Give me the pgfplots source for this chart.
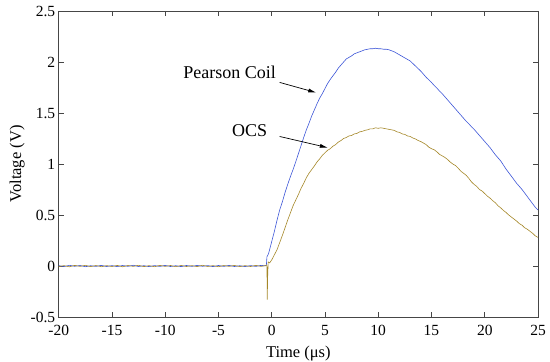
\documentclass[border=0pt]{standalone}
\usepackage{fontspec}
\setmainfont{Liberation Serif}
\usepackage{pgfplots}
\pgfplotsset{compat=1.18}
\usetikzlibrary{arrows.meta}
\definecolor{pblue}{RGB}{60,85,215}
\definecolor{ocs}{RGB}{165,135,40}
\definecolor{axgray}{RGB}{70,70,70}
\begin{document}
\begin{tikzpicture}
\begin{axis}[
 scale only axis, width=479.3bp, height=306bp,
 xmin=-20,xmax=25,ymin=-0.5,ymax=2.5,
 xtick={-20,-15,-10,-5,0,5,10,15,20,25},
 ytick={-0.5,0,0.5,1,1.5,2,2.5},
 tick align=inside, major tick length=5bp,
 axis line style={axgray, line width=0.8pt},
 tick style={axgray, line width=0.8pt},
 /pgf/number format/assume math mode=true,
 tick label style={font=\fontsize{15.5bp}{18bp}\selectfont},
 xticklabel style={yshift=-5bp},
 label style={font=\fontsize{16.5bp}{19bp}\selectfont},
 xlabel={Time (μs)}, ylabel={Voltage (V)},
 xlabel style={yshift=-3bp},
 ylabel style={yshift=-1bp},
 clip=true,
]
\addplot[pblue, line width=0.6pt] coordinates {
(-20,0.004)(-19.5,-0.006)(-19,0.007)(-18.5,-0.003)(-18,0.005)(-17.5,-0.007)(-17,0.003)(-16.5,-0.004)(-16,0.006)(-15.5,-0.005)
(-15,0.004)(-14.5,-0.006)(-14,0.005)(-13.5,-0.003)(-13,0.007)(-12.5,-0.005)(-12,0.003)(-11.5,-0.006)(-11,0.004)(-10.5,-0.004)
(-10,0.006)(-9.5,-0.005)(-9,0.003)(-8.5,-0.006)(-8,0.005)(-7.5,-0.004)(-7,0.006)(-6.5,-0.003)(-6,0.004)(-5.5,-0.006)
(-5,0.005)(-4.5,-0.004)(-4,0.006)(-3.5,-0.005)(-3,0.003)(-2.5,-0.006)(-2,0.004)(-1.5,-0.004)(-1,0.006)(-0.6,0.002)
(-0.5,0.01)(-0.45,0.09)(-0.3,0.12)(-0.2,0.16)(0,0.24)(0.25,0.34)(0.5,0.45)(0.75,0.55)(1,0.63)(1.25,0.72)(1.5,0.80)(1.75,0.875)
(2,0.945)(2.25,1.02)(2.5,1.10)(2.75,1.18)(3,1.26)(3.25,1.335)(3.5,1.40)(3.75,1.47)(4,1.53)(4.25,1.59)(4.5,1.645)(4.75,1.69)
(5,1.74)(5.25,1.79)(5.5,1.83)(5.75,1.865)(6,1.90)(6.25,1.94)(6.5,1.97)(6.75,2.00)(7,2.03)(7.25,2.045)(7.5,2.06)(7.75,2.08)
(8,2.09)(8.25,2.10)(8.5,2.11)(8.75,2.12)(9,2.125)(9.25,2.13)(9.5,2.13)(9.75,2.135)(10,2.13)(10.25,2.13)(10.5,2.125)(10.75,2.125)
(11,2.12)(11.25,2.11)(11.5,2.10)(11.75,2.085)(12,2.07)(12.25,2.055)(12.5,2.04)(12.75,2.025)(13,2.01)(13.25,1.985)(13.5,1.96)
(13.75,1.935)(14,1.91)(14.25,1.88)(14.5,1.85)(14.75,1.825)(15,1.80)(15.25,1.77)(15.5,1.745)(15.75,1.715)(16,1.69)(16.25,1.66)
(16.5,1.63)(16.75,1.60)(17,1.57)(17.25,1.54)(17.5,1.51)(17.75,1.48)(18,1.45)(18.25,1.42)(18.5,1.395)(18.75,1.365)(19,1.34)
(19.25,1.31)(19.5,1.28)(19.75,1.25)(20,1.22)(20.25,1.19)(20.5,1.16)(20.75,1.125)(21,1.09)(21.25,1.06)(21.5,1.03)(21.75,0.99)
(22,0.95)(22.25,0.915)(22.5,0.88)(22.75,0.845)(23,0.81)(23.25,0.78)(23.5,0.75)(23.75,0.715)(24,0.68)(24.25,0.645)(24.5,0.61)
(24.75,0.575)(25,0.55)
};
\addplot[ocs, line width=0.6pt] coordinates {
(-20,-0.006)(-19.5,0.004)(-19,-0.008)(-18.5,0.006)(-18,-0.004)(-17.5,0.007)(-17,-0.006)(-16.5,0.005)(-16,-0.007)(-15.5,0.004)
(-15,-0.005)(-14.5,0.006)(-14,-0.008)(-13.5,0.005)(-13,-0.004)(-12.5,0.007)(-12,-0.006)(-11.5,0.004)(-11,-0.007)(-10.5,0.006)
(-10,-0.004)(-9.5,0.005)(-9,-0.007)(-8.5,0.006)(-8,-0.005)(-7.5,0.004)(-7,-0.006)(-6.5,0.007)(-6,-0.005)(-5.5,0.004)
(-5,-0.007)(-4.5,0.005)(-4,-0.004)(-3.5,0.006)(-3,-0.006)(-2.5,0.004)(-2,-0.005)(-1.5,0.006)(-1,-0.004)(-0.6,0.003)
(-0.45,0.01)(-0.42,-0.33)(-0.38,-0.1)(-0.33,0.04)(-0.2,0.03)(0,0.06)(0.25,0.11)(0.5,0.16)(0.75,0.23)(1,0.30)(1.25,0.375)
(1.5,0.45)(1.75,0.52)(2,0.59)(2.25,0.645)(2.5,0.70)(2.75,0.76)(3,0.81)(3.25,0.865)(3.5,0.91)(3.75,0.945)(4,0.98)(4.25,1.02)
(4.5,1.05)(4.75,1.085)(5,1.11)(5.25,1.135)(5.5,1.15)(5.75,1.175)(6,1.19)(6.25,1.215)(6.5,1.23)(6.75,1.25)(7,1.26)(7.25,1.275)
(7.5,1.28)(7.75,1.295)(8,1.30)(8.25,1.315)(8.5,1.32)(8.75,1.33)(9,1.335)(9.25,1.345)(9.5,1.345)(9.75,1.355)(10,1.35)(10.25,1.355)
(10.5,1.35)(10.75,1.345)(11,1.34)(11.25,1.335)(11.5,1.33)(11.75,1.315)(12,1.31)(12.25,1.295)(12.5,1.29)(12.75,1.275)(13,1.27)
(13.25,1.255)(13.5,1.245)(13.75,1.23)(14,1.22)(14.25,1.205)(14.5,1.19)(14.75,1.165)(15,1.15)(15.25,1.14)(15.5,1.12)(15.75,1.095)
(16,1.08)(16.25,1.065)(16.5,1.045)(16.75,1.02)(17,1.00)(17.25,0.985)(17.5,0.96)(17.75,0.93)(18,0.91)(18.25,0.89)(18.5,0.86)
(18.75,0.825)(19,0.80)(19.25,0.78)(19.5,0.75)(19.75,0.735)(20,0.71)(20.25,0.685)(20.5,0.665)(20.75,0.64)(21,0.62)(21.25,0.59)
(21.5,0.57)(21.75,0.545)(22,0.525)(22.25,0.50)(22.5,0.48)(22.75,0.46)(23,0.44)(23.25,0.415)(23.5,0.40)(23.75,0.375)(24,0.36)
(24.25,0.34)(24.5,0.32)(24.75,0.295)(25,0.28)
};
\node[font=\fontsize{18bp}{21bp}\selectfont] at (axis cs:-3.95,1.90) {Pearson Coil};
\node[font=\fontsize{18bp}{21bp}\selectfont] at (axis cs:-2.07,1.33) {OCS};
\draw[-{Latex[length=8bp,width=4bp]}, line width=0.7pt] (axis cs:0.74,1.80) -- (axis cs:4.18,1.70);
\draw[-{Latex[length=8bp,width=4bp]}, line width=0.7pt] (axis cs:0.74,1.27) -- (axis cs:5.27,1.16);
\coordinate (sw) at (rel axis cs:0,0);
\coordinate (ne) at (rel axis cs:1,1);
\end{axis}
\pgfresetboundingbox
\path[use as bounding box] ([shift={(-58.7bp,-44bp)}]sw) rectangle ([shift={(12bp,11bp)}]ne);
\end{tikzpicture}
\end{document}
